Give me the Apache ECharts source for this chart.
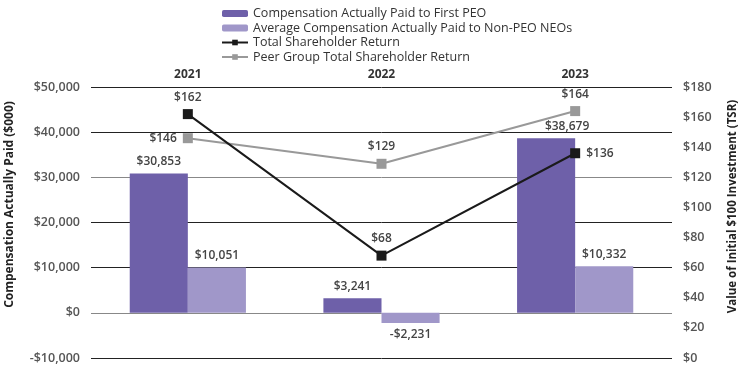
<!DOCTYPE html>
<html><head><meta charset="utf-8">
<script src="https://cdn.jsdelivr.net/npm/echarts@6/dist/echarts.min.js"></script>
<style>html,body{margin:0;padding:0;background:#fff}#c{width:738px;height:368px}</style>
</head><body><div id="c"></div>
<script>
const years = ['2021', '2022', '2023'];
const peoCap = [30853, 3241, 38679];
const neoCap = [10051, -2231, 10332];
const tsr = [162, 68, 136];
const peerTsr = [146, 129, 164];
const leftTicks = { min: -10000, max: 50000, interval: 10000 };
const rightTicks = { min: 0, max: 180, interval: 20 };

const FONT = '"Open Sans", sans-serif';
function money(v) {
  const s = Math.abs(v).toLocaleString('en-US');
  return (v < 0 ? '-$' : '$') + s;
}
const chart = echarts.init(document.getElementById('c'));
const lblStyle = { fontFamily: FONT, fontSize: 12, fontWeight: 600, color: '#444' };
chart.setOption({
  animation: false,
  textStyle: { fontFamily: FONT },
  legend: {
    orient: 'vertical', left: 216, top: 2, itemGap: 1.5, itemWidth: 26, itemHeight: 7,
    textStyle: { fontFamily: FONT, fontSize: 12.5, color: '#333' },
    data: [
      { name: 'Compensation Actually Paid to First PEO' },
      { name: 'Average Compensation Actually Paid to Non-PEO NEOs' },
      { name: 'Total Shareholder Return' },
      { name: 'Peer Group Total Shareholder Return' }
    ]
  },
  grid: { left: 91, right: 66, top: 87, bottom: 10, outerBoundsMode: 'none', containLabel: false },
  xAxis: {
    type: 'category', data: years, position: 'top',
    axisLine: { show: false }, axisTick: { show: false },
    axisLabel: { margin: 6, fontFamily: FONT, fontSize: 12, fontWeight: 'bold', color: '#333' }
  },
  yAxis: [
    {
      type: 'value', min: leftTicks.min, max: leftTicks.max, interval: leftTicks.interval,
      name: 'Compensation Actually Paid ($000)', nameLocation: 'middle', nameGap: 75, nameRotate: 90,
      nameTextStyle: { fontFamily: FONT, fontSize: 12, fontWeight: 'bold', color: '#222', padding: [0, 0, 0, 36] },
      axisLine: { show: false }, axisTick: { show: false },
      axisLabel: { margin: 11, fontFamily: FONT, fontSize: 12.5, fontWeight: 600, color: '#555', formatter: v => money(v) },
      splitLine: { lineStyle: { color: ['#222', '#888', '#222', '#222', '#888', '#222', '#222'], width: 1 } }
    },
    {
      type: 'value', min: rightTicks.min, max: rightTicks.max, interval: rightTicks.interval,
      name: 'Value of Initial $100 Investment (TSR)', nameLocation: 'middle', nameGap: 55, nameRotate: 90,
      nameTextStyle: { fontFamily: FONT, fontSize: 11.5, fontWeight: 'bold', color: '#222', padding: [0, 0, 0, 32] },
      axisLine: { show: false }, axisTick: { show: false },
      axisLabel: { margin: 11, fontFamily: FONT, fontSize: 12.5, fontWeight: 600, color: '#555', formatter: v => '$' + v },
      splitLine: { show: false }
    }
  ],
  series: [
    {
      name: 'Compensation Actually Paid to First PEO', type: 'bar', data: peoCap,
      barWidth: '30%', barGap: '0%',
      itemStyle: { color: '#6E60A9' },
      label: { show: true, position: 'top', distance: 6, ...lblStyle, formatter: p => money(p.value) },
      labelLayout: p => p.dataIndex === 2 ? { dx: 21 } : {}
    },
    {
      name: 'Average Compensation Actually Paid to Non-PEO NEOs', type: 'bar', data: neoCap,
      barWidth: '30%', barGap: '0%',
      itemStyle: { color: '#A097C9' },
      label: { show: true, position: 'top', distance: 6, ...lblStyle, formatter: p => money(p.value) },
      labelLayout: p => p.dataIndex === 1 ? { dy: 34 } : {}
    },
    {
      name: 'Total Shareholder Return', type: 'line', yAxisIndex: 1,
      data: tsr.map((v, i) => ({ value: v, label: { position: i === 2 ? 'right' : 'top' } })),
      symbol: 'rect', symbolSize: 10, showAllSymbol: true,
      lineStyle: { color: '#1a1a1a', width: 2 }, itemStyle: { color: '#1a1a1a' },
      label: { show: true, distance: 6, ...lblStyle, formatter: p => '$' + p.value },
      z: 5
    },
    {
      name: 'Peer Group Total Shareholder Return', type: 'line', yAxisIndex: 1,
      data: peerTsr.map((v, i) => ({ value: v, label: { position: i === 0 ? 'left' : 'top' } })),
      symbol: 'rect', symbolSize: 10, showAllSymbol: true,
      lineStyle: { color: '#999', width: 2 }, itemStyle: { color: '#999' },
      label: { show: true, distance: 6, ...lblStyle, formatter: p => '$' + p.value },
      z: 4
    }
  ]
});
</script></body></html>
